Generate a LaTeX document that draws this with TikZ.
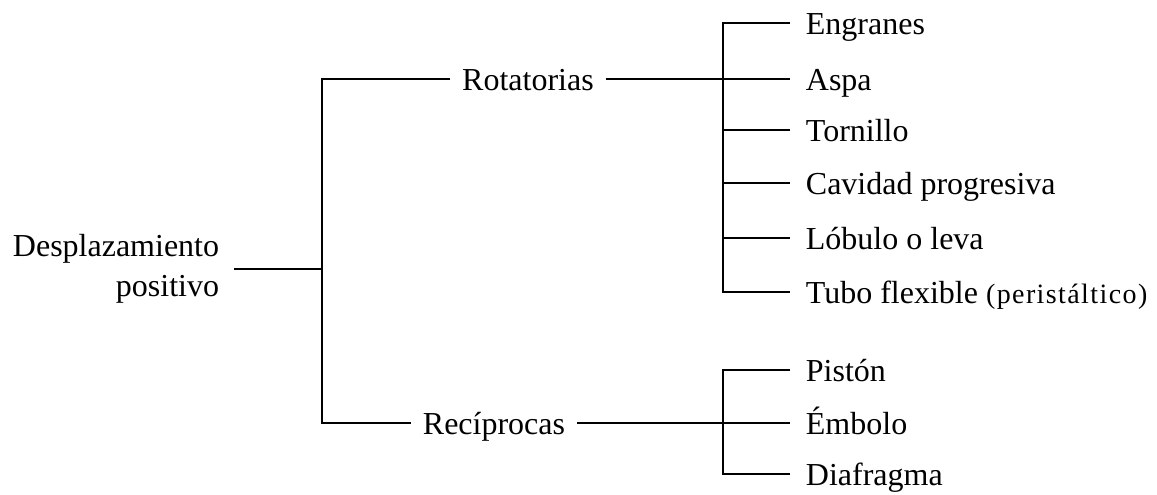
\documentclass[tikz,border=0pt]{standalone}
\usepackage{fontspec}
\setmainfont{Liberation Serif}
\begin{document}
\begin{tikzpicture}[x=1pt,y=-1pt,
  line width=1.8pt,
  every node/.style={font=\fontsize{32}{40}\selectfont, inner ysep=0pt},
  item/.style={anchor=west, inner xsep=15pt, text height=23pt, text depth=0pt},
  branch/.style={inner xsep=11pt, text height=23pt, text depth=0pt},
  rootlabel/.style={align=right, anchor=east, inner xsep=14pt}]
  \useasboundingbox (0,0) rectangle (1157,495);

  % root and the two families
  \node[rootlabel] (root) at (234,269) {Desplazamiento\\positivo};
  \node[branch] (rot) at (528,79) {Rotatorias};
  \node[branch] (rec) at (494,423) {Recíprocas};

  % rotary types
  \node[item] (engr) at (790,23)  {Engranes};
  \node[item] (aspa) at (790,79)  {Aspa};
  \node[item] (torn) at (790,130) {Tornillo};
  \node[item] (cav)  at (790,183) {Cavidad progresiva};
  \node[item] (lob)  at (790,238) {Lóbulo o leva};
  \node[item] (tubo) at (790,292) {Tubo flexible {\fontsize{28}{34}\selectfont\addfontfeature{LetterSpace=5}(peristáltico)}};

  % reciprocating types
  \node[item] (pist) at (790,370) {Pistón};
  \node[item] (emb)  at (790,423) {Émbolo};
  \node[item] (diaf) at (790,474) {Diafragma};

  % bracket columns
  \coordinate (sp) at (322,0);
  \coordinate (sq) at (723,0);

  % root bracket
  \draw (root.east) -- (root.east -| sp);
  \draw (rot.west) -| (sp |- rec.west) -- (rec.west);

  % rotary bracket
  \draw (rot.east) -- (aspa.west);
  \draw (engr.west) -| (sq |- tubo.west) -- (tubo.west);
  \draw (sq |- torn.west) -- (torn.west);
  \draw (sq |- cav.west) -- (cav.west);
  \draw (sq |- lob.west) -- (lob.west);

  % reciprocating bracket
  \draw (rec.east) -- (emb.west);
  \draw (pist.west) -| (sq |- diaf.west) -- (diaf.west);
\end{tikzpicture}
\end{document}
